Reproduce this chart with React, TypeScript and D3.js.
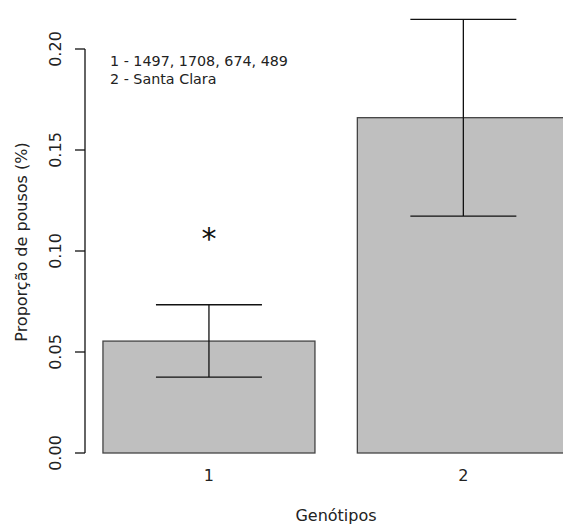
import React, { useEffect, useRef } from 'react'
import * as d3 from 'd3'

// genotype groups and their mean proportions with error limits
const categories = ['1', '2']
const means = [0.0554, 0.166]
const lower = [0.0376, 0.1173]
const upper = [0.0734, 0.2147]
const yTicks = [0, 0.05, 0.1, 0.15, 0.2]
const legendLines = ['1 - 1497, 1708, 674, 489', '2 - Santa Clara']

export default function App() {
  const svgRef = useRef<SVGSVGElement | null>(null)

  useEffect(() => {
    if (!svgRef.current) return
    const width = 563
    const height = 525
    const font = 'DejaVu Sans, sans-serif'

    const svg = d3.select(svgRef.current)
    svg.selectAll('*').remove()
    svg.attr('width', width).attr('height', height).style('background', '#fff')

    // R barplot user coords: bars at [0.2,1.2] and [1.4,2.4], 4% padding
    const xScale = d3.scaleLinear().domain([0.112, 2.488]).range([84.3, 588])
    const yScale = d3.scaleLinear().domain([0, 0.2]).range([453, 49])

    const barLeft = categories.map((_, i) => 0.2 + i * 1.2)
    const barMid = barLeft.map(l => l + 0.5)

    // bars
    svg.selectAll('rect.bar')
      .data(means)
      .enter()
      .append('rect')
      .attr('class', 'bar')
      .attr('x', (_, i) => xScale(barLeft[i]))
      .attr('width', xScale(1.2) - xScale(0.2))
      .attr('y', d => yScale(d))
      .attr('height', d => yScale(0) - yScale(d))
      .attr('fill', '#bfbfbf')
      .attr('stroke', '#444')
      .attr('stroke-width', 1.3)

    // error bars
    const capHalf = 0.25
    const eb = svg.append('g').attr('stroke', '#111').attr('stroke-width', 1.3)
    categories.forEach((_, i) => {
      const cx = xScale(barMid[i])
      eb.append('line').attr('x1', cx).attr('x2', cx)
        .attr('y1', yScale(lower[i])).attr('y2', yScale(upper[i]))
      ;[lower[i], upper[i]].forEach(v => {
        eb.append('line')
          .attr('x1', xScale(barMid[i] - capHalf)).attr('x2', xScale(barMid[i] + capHalf))
          .attr('y1', yScale(v)).attr('y2', yScale(v))
      })
    })

    // y axis
    const yAxis = svg.append('g').attr('stroke', '#111').attr('stroke-width', 1.3)
    yAxis.append('line').attr('x1', 85).attr('x2', 85)
      .attr('y1', yScale(0)).attr('y2', yScale(0.2))
    yTicks.forEach(t => {
      yAxis.append('line').attr('x1', 75).attr('x2', 85)
        .attr('y1', yScale(t)).attr('y2', yScale(t))
      svg.append('text')
        .attr('transform', `translate(61, ${yScale(t)}) rotate(-90)`)
        .attr('text-anchor', 'middle')
        .style('font-family', font)
        .style('font-size', '16px')
        .attr('fill', '#222')
        .text(t.toFixed(2))
    })

    // x category labels
    categories.forEach((c, i) => {
      svg.append('text')
        .attr('x', xScale(barMid[i]))
        .attr('y', 481)
        .attr('text-anchor', 'middle')
        .style('font-family', font)
        .style('font-size', '16px')
        .attr('fill', '#222')
        .text(c)
    })

    // axis titles
    svg.append('text')
      .attr('x', 336)
      .attr('y', 520.5)
      .attr('text-anchor', 'middle')
      .style('font-family', font)
      .style('font-size', '16px')
      .attr('fill', '#222')
      .text('Genótipos')

    svg.append('text')
      .attr('transform', 'translate(27, 242) rotate(-90)')
      .attr('text-anchor', 'middle')
      .style('font-family', font)
      .style('font-size', '16px')
      .attr('fill', '#222')
      .text('Proporção de pousos (%)')

    // legend text
    legendLines.forEach((l, i) => {
      svg.append('text')
        .attr('x', 110)
        .attr('y', 66 + i * 18)
        .style('font-family', font)
        .style('font-size', '14.3px')
        .attr('fill', '#222')
        .text(l)
    })

    // significance mark
    svg.append('text')
      .attr('x', xScale(barMid[0]))
      .attr('y', 249)
      .attr('text-anchor', 'middle')
      .style('font-family', font)
      .style('font-size', '30px')
      .attr('fill', '#111')
      .text('*')
  }, [])

  return (
    <div style={{ position: 'absolute', left: 0, top: 0 }}>
      <svg ref={svgRef}></svg>
    </div>
  )
}
